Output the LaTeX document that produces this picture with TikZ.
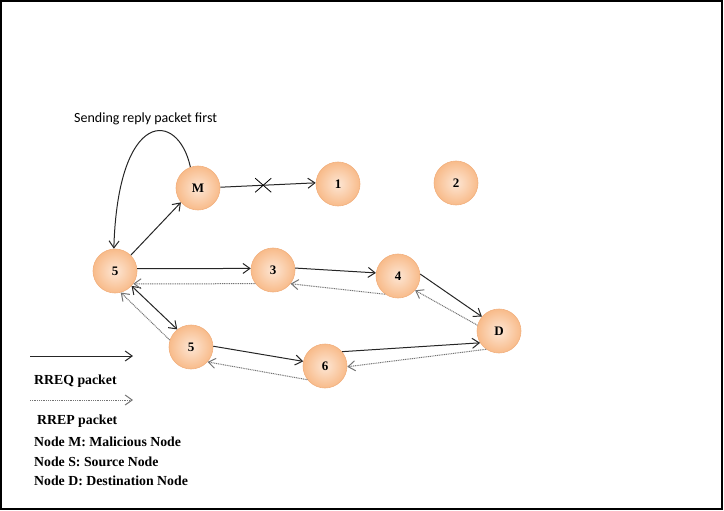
\documentclass[tikz,border=0pt]{standalone}
\usepackage{fontspec}
\setmainfont{Liberation Serif}
\newfontfamily\calib{Carlito}
\usetikzlibrary{arrows.meta,calc}
\definecolor{peachin}{HTML}{FDE6D4}
\definecolor{peachout}{HTML}{F8BB8A}
\definecolor{peachedge}{HTML}{F2B07E}
\tikzset{
  mnode/.style={circle,minimum size=44pt,inner sep=0pt,inner color=peachin,outer color=peachout,draw=peachedge,line width=0.6pt,font=\fontsize{13}{14}\selectfont\bfseries},
  req/.style={line width=1pt,draw=black!85,-{Straight Barb[length=7pt,width=10pt]}},
  rep/.style={line width=1pt,draw=black!55,dash pattern=on 1pt off 0.8pt,-{Straight Barb[length=7pt,width=10pt]}},
  legend/.style={anchor=west,inner sep=0pt,font=\fontsize{13.8}{15}\selectfont\bfseries}
}
\begin{document}
\begin{tikzpicture}[x=1pt,y=-1pt]
\useasboundingbox (0,0) rectangle (724,511);
\draw[line width=1.5pt] (1,1) rectangle (722,509);
\node[mnode] (M) at (198,188) {M};
\node[mnode] (n1) at (338,184) {1};
\node[mnode] (n2) at (456,183) {2};
\node[mnode] (S) at (115,271) {5};
\node[mnode] (n3) at (273,270) {3};
\node[mnode] (n4) at (398,276) {4};
\node[mnode] (D) at (499,331) {D};
\node[mnode] (n5) at (191,347) {5};
\node[mnode] (n6) at (325,366) {6};
\node[anchor=west,inner sep=0pt,font=\calib\fontsize{14}{15}\selectfont] (cap) at (74,119) {Sending reply packet first};
% loop
\draw[req] (M.110) .. controls (178,110) and (118,108) .. (S.93);
% RREQ
\draw[req] (S.45) -- (M.220);
\draw[req] (M.2) -- coordinate[pos=0.45] (xm) (n1.177);
\draw[line width=0.8pt] ($(xm)+(-8,-7)$) -- ($(xm)+(8,7)$) ($(xm)+(-8,7)$) -- ($(xm)+(8,-7)$);
\draw[req] (S.6) -- (n3.176);
\draw[req] (n3.5) -- (n4.172);
\draw[req] (n4.5) -- (D.140);
\draw[req,{Straight Barb[length=7pt,width=10pt]}-{Straight Barb[length=7pt,width=10pt]}] (S.-42) -- (n5.128);
\draw[req] (n5.2) -- (n6.168);
\draw[req] (n6.40) -- (D.212);
% RREP
\draw[rep] (n3.218) -- (S.-35);
\draw[rep] (n4.235) -- (n3.-38);
\draw[rep] (D.165) -- (n4.-40);
\draw[rep] (n5.162) -- (S.-75);
\draw[rep] (n6.218) -- (n5.-42);
\draw[rep] (D.235) -- (n6.-2);
% legend
\coordinate (l1a) at (30,356); \coordinate (l1b) at (133,356);
\draw[req] (l1a) -- (l1b);
\node[legend] (t1) at (34,381) {RREQ packet};
\coordinate (l2a) at (30,400); \coordinate (l2b) at (133,400);
\draw[rep] (l2a) -- (l2b);
\node[legend] (t2) at (37,421) {RREP packet};
\node[legend] (t3) at (34,442) {Node M: Malicious Node};
\node[legend] (t4) at (34,462) {Node S: Source Node};
\node[legend] (t5) at (34,481) {Node D: Destination Node};
\end{tikzpicture}
\end{document}
